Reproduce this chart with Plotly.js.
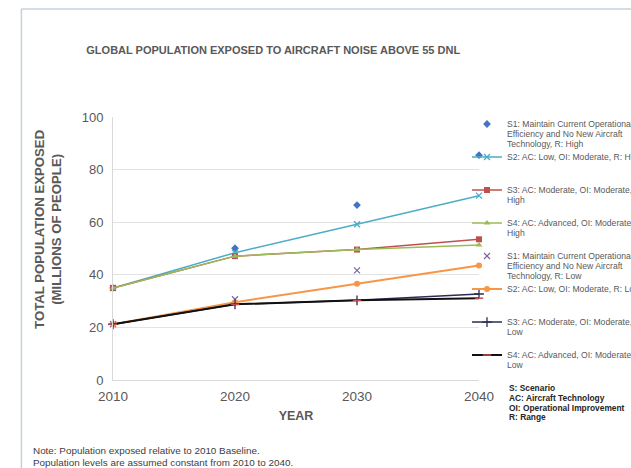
<!DOCTYPE html>
<html>
<head>
<meta charset="utf-8">
<script src="https://cdn.plot.ly/plotly-3.0.1.min.js"></script>
<style>html,body{margin:0;padding:0;background:#fff;}#chart{width:631px;height:468px;}</style>
</head>
<body>
<div id="chart"></div>
<script>
var years = [2010, 2020, 2030, 2040];
var s1High = [35, 50.1, 66.5, 85.5];
var s2High = [35, 48.4, 59.2, 70.1];
var s3High = [35, 47.1, 49.6, 53.5];
var s4High = [35, 47.1, 49.6, 51.3];
var s1Low = [21.2, 30.7, 41.7, null];
var s2Low = [21.2, 29.6, 36.6, 43.5];
var s3Low = [21.2, 28.8, 30.3, 32.7];
var s4Low = [21.2, 28.8, 30.3, 31.1];
var yTicks = [0, 20, 40, 60, 80, 100];

var names = [
  'S1: Maintain Current Operational<br>Efficiency and No New Aircraft<br>Technology, R: High',
  'S2: AC: Low, OI: Moderate, R: High<br>&nbsp;<br>&nbsp;',
  'S3: AC: Moderate, OI: Moderate, R:<br>High<br>&nbsp;',
  'S4: AC: Advanced, OI: Moderate, R:<br>High<br>&nbsp;',
  'S1: Maintain Current Operational<br>Efficiency and No New Aircraft<br>Technology, R: Low',
  'S2: AC: Low, OI: Moderate, R: Low<br>&nbsp;<br>&nbsp;',
  'S3: AC: Moderate, OI: Moderate, R:<br>Low<br>&nbsp;',
  'S4: AC: Advanced, OI: Moderate, R:<br>Low<br>&nbsp;'
];

function big(s, px) {
  return s.split('<br>').map(function (l) { return '<span style="font-size:' + px + 'px">' + l + '</span>'; }).join('<br>');
}

var traces = [
  {y: s1High, mode: 'markers', marker: {symbol: 'diamond', size: 6, color: '#4472C4'}},
  {y: s2High, mode: 'lines+markers', line: {color: '#4BACC6', width: 1.5}, marker: {symbol: 'x-thin-open', size: 6, color: '#4BACC6', line: {width: 1.3, color: '#4BACC6'}}},
  {y: s3High, mode: 'lines+markers', line: {color: '#C0504D', width: 1.5}, marker: {symbol: 'square', size: 6, color: '#C0504D'}},
  {y: s4High, mode: 'lines+markers', line: {color: '#9BBB59', width: 1.5}, marker: {symbol: 'triangle-up', size: 6, color: '#9BBB59'}},
  {y: s1Low, mode: 'markers', marker: {symbol: 'x-thin-open', size: 6, color: '#8064A2', line: {width: 1.2, color: '#8064A2'}}},
  {y: s2Low, mode: 'lines+markers', line: {color: '#F79646', width: 2}, marker: {symbol: 'circle', size: 6, color: '#F79646'}},
  {y: s3Low, mode: 'lines+markers', line: {color: '#2B2B55', width: 1.5}, marker: {symbol: 'cross-thin-open', size: 7, color: '#2B2B55', line: {width: 1.3, color: '#2B2B55'}}},
  {y: s4Low, mode: 'lines+markers', line: {color: '#111111', width: 2}, marker: {symbol: 'line-ew-open', size: 6, color: '#C0504D', line: {width: 1.5, color: '#C0504D'}}}
];
traces.forEach(function (t, i) {
  t.x = years;
  t.type = 'scatter';
  t.name = big(names[i], 8.6);
  t.cliponaxis = false;
  t.legend = i < 4 ? 'legend' : 'legend2';
});

var grey = '#595959';
var legendBase = {
  xref: 'container', yref: 'container', x: 0.7401, xanchor: 'left', yanchor: 'top',
  valign: 'top', itemwidth: 30,
  font: {size: 7.7, color: grey}, bgcolor: 'rgba(0,0,0,0)', tracegroupgap: 0
};
var legend1 = Object.assign({}, legendBase, {y: 0.7596});
var legend2 = Object.assign({}, legendBase, {y: 0.4776});

var layout = {
  width: 631, height: 468,
  margin: {l: 113, r: 152, t: 117, b: 88, autoexpand: false},
  paper_bgcolor: '#ffffff', plot_bgcolor: '#ffffff',
  font: {family: 'Liberation Sans, Arial, sans-serif', color: grey},
  title: {
    text: '<b>GLOBAL POPULATION EXPOSED TO AIRCRAFT NOISE ABOVE 55 DNL</b>',
    font: {size: 11, color: grey},
    xref: 'container', yref: 'container', x: 0.433, xanchor: 'center', y: 0.893, yanchor: 'middle'
  },
  xaxis: {
    range: [2010, 2040], tickvals: years, ticktext: years.map(String),
    showgrid: false, zeroline: false, showline: true, linecolor: '#d9d9d9', linewidth: 1,
    ticks: '', tickfont: {size: 13.5, color: grey}, ticklabelstandoff: 4,
    title: {text: '<b>YEAR</b>', font: {size: 12.5, color: grey}, standoff: 8}
  },
  yaxis: {
    range: [0, 100], tickvals: yTicks,
    showgrid: true, gridcolor: '#e3e3e3', gridwidth: 1, zeroline: false,
    showline: true, linecolor: '#d9d9d9', linewidth: 1,
    ticks: '', tickfont: {size: 13, color: grey}, ticklabelstandoff: 6
  },
  showlegend: true,
  legend: legend1,
  legend2: legend2,
  annotations: [
    {xref: 'paper', yref: 'paper', x: -0.178, y: 0.574, xanchor: 'center', yanchor: 'middle',
     textangle: -90, showarrow: false, align: 'center',
     text: '<b>TOTAL POPULATION EXPOSED<br>(MILLIONS OF PEOPLE)</b>', font: {size: 13.2, color: grey}},
    {xref: 'paper', yref: 'paper', x: 1.076, y: -0.005, xanchor: 'left', yanchor: 'top',
     showarrow: false, align: 'left',
     text: big('<b>S: Scenario</b><br><b>AC: Aircraft Technology</b><br><b>OI: Operational Improvement</b><br><b>R: Range</b>', 8.4),
     font: {size: 7.5, color: '#262626'}},
    {xref: 'paper', yref: 'paper', x: -0.223, y: -0.24, xanchor: 'left', yanchor: 'top',
     showarrow: false, align: 'left',
     text: big('Note: Population exposed relative to 2010 Baseline.<br>Population levels are assumed constant from 2010 to 2040.', 9.9),
     font: {size: 9.2, color: '#404040'}}
  ],
  shapes: [
    {type: 'line', xref: 'paper', yref: 'paper', x0: -0.2503, x1: -0.2503, y0: -0.34, y1: 1.4106, line: {color: '#c5d3d8', width: 1.5}},
    {type: 'line', xref: 'paper', yref: 'paper', x0: -0.2503, x1: 1.5, y0: 1.4106, y1: 1.4106, line: {color: '#c5d3d8', width: 1.5}}
  ]
};

Plotly.newPlot('chart', traces, layout, {displayModeBar: false, staticPlot: true});
</script>
</body>
</html>
